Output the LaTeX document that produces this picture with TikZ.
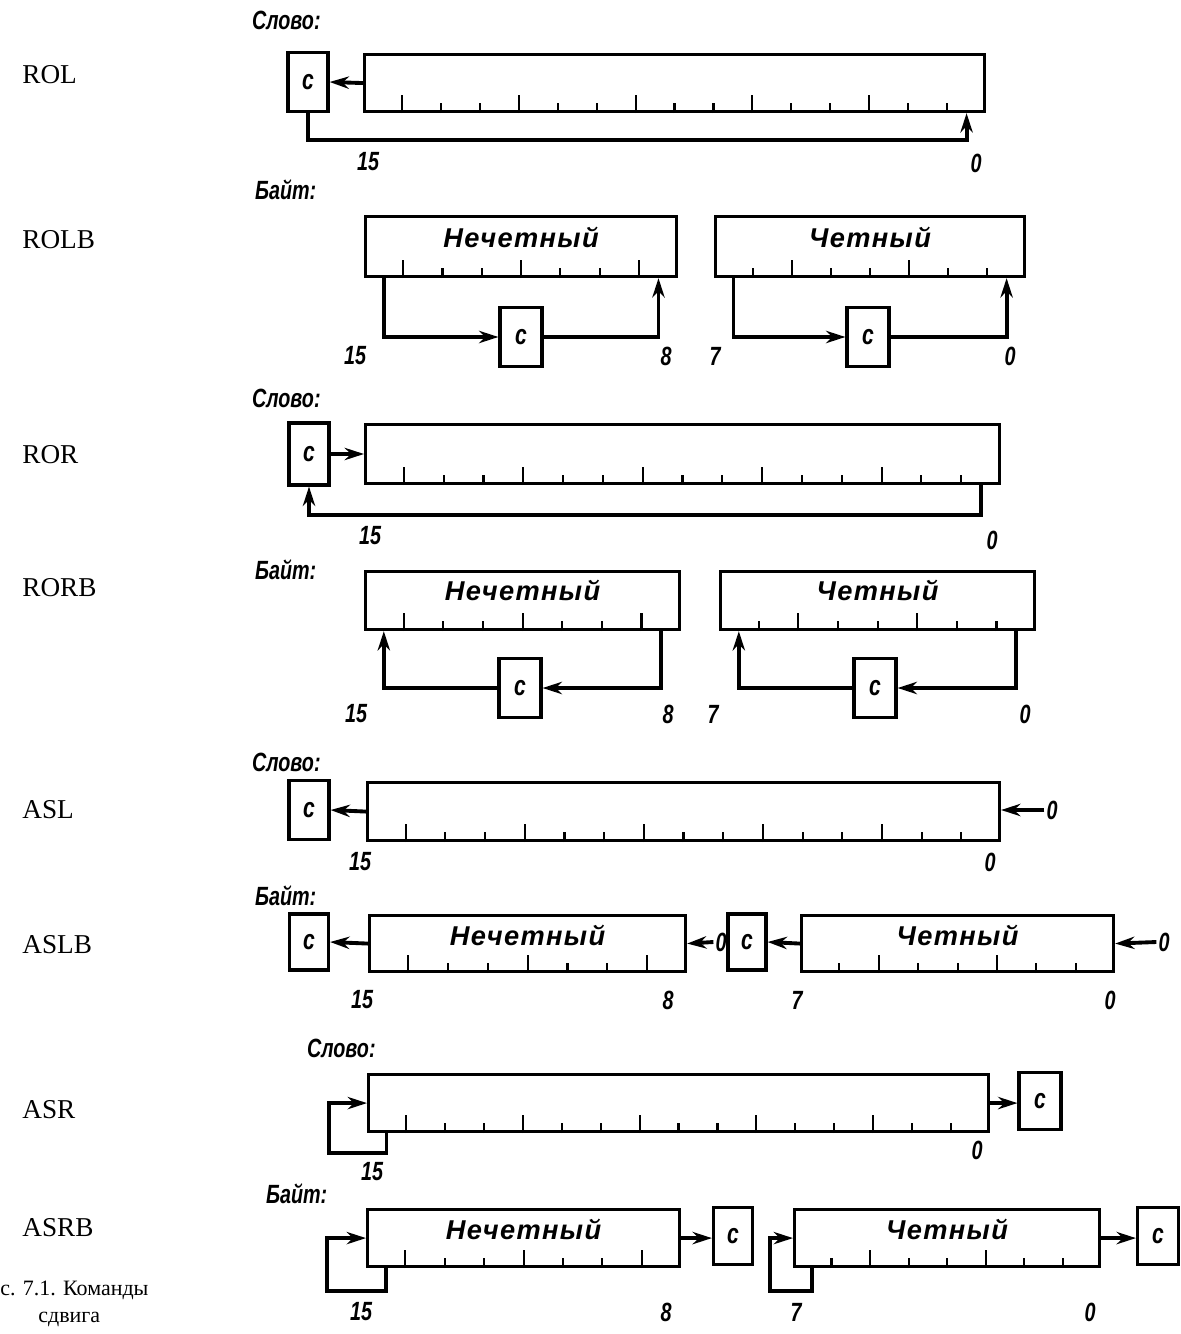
\documentclass[tikz,border=0pt]{standalone}
\usepackage{fontspec}
\setmainfont{Liberation Serif}
\newfontfamily\gostfont{Liberation Sans}[FakeStretch=0.75]
\newfontfamily\gostwide{Liberation Sans}[LetterSpace=5]
\usetikzlibrary{arrows.meta,calc}

% ticks under a register: node, high bit, number of bits
\newcommand{\regticks}[3]{%
  \pgfmathtruncatemacro\nlast{#3-1}
  \foreach \k in {1,...,\nlast} {
    \pgfmathtruncatemacro\b{#2-\k+1}
    \pgfmathsetmacro\h{mod(\b,3)==0 ? 18 : 10}
    \draw[tick] ($(#1.south west)!\k/#3!(#1.south east)$) -- ++(0,-\h);
  }%
}

\begin{document}
\begin{tikzpicture}[x=0.02cm, y=-0.02cm,
    reg/.style 2 args={draw, line width=1.8pt, anchor=north west, inner sep=0pt, minimum width=#1, minimum height=#2},
    cbox/.style={draw, line width=1.8pt, inner sep=0pt, minimum width=0.8cm, minimum height=1.18cm, font=\gostfont\bfseries\itshape\fontsize{16}{18}\selectfont},
    gost/.style={inner sep=1pt, font=\gostfont\bfseries\itshape\fontsize{15}{18}\selectfont},
    byte/.style={inner sep=1pt, font=\gostwide\bfseries\itshape\fontsize{15.5}{18}\selectfont},
    word/.style={gost, anchor=west},
    bitno/.style={gost},
    mnem/.style={anchor=west, inner sep=0pt, font=\fontsize{15.5}{18}\selectfont},
    flow/.style={line width=2.2pt, -{Stealth[length=11pt,width=7pt]}},
    tick/.style={line width=1.2pt}]
\useasboundingbox (0,0) rectangle (1180,1334);

% ROL
\node[mnem] (mrol) at (22,75) {ROL};
\node[word] (wrol) at (250,20) {Слово:};
\node[reg={12.4cm}{1.14cm}] (rol) at (363,53) {};
\node[cbox] (rolc) at (308,82) {c};
\regticks{rol}{15}{16}
\coordinate (rol0) at ($(rol.south west)!31/32!(rol.south east)$);
\draw[flow] (rol.west) -- (rolc.east);
\draw[flow] (rolc.south) |- ($(rol0)+(0,27)$) -- (rol0);
\node[bitno] (rol15n) at (368,162) {15};
\node[bitno] (rol0n) at (976,163) {0};

% ROLB
\node[mnem] (mrolb) at (22,240) {ROLB};
\node[word] (wrolb) at (253,190) {Байт:};
\node[reg={6.22cm}{1.2cm}] (rolbo) at (364,215) {};
\node[reg={6.18cm}{1.2cm}] (rolbe) at (714,215) {};
\node[byte] (trolbo) at ($(rolbo.north)+(0,22)$) {Нечетный};
\node[byte] (trolbe) at ($(rolbe.north)+(0,22)$) {Четный};
\regticks{rolbo}{15}{8}
\regticks{rolbe}{7}{8}
\node[cbox, minimum width=0.84cm] (rolbco) at (521,337) {c};
\node[cbox, minimum width=0.84cm] (rolbce) at (868,337) {c};
\coordinate (rolbo15) at ($(rolbo.south west)!1/16!(rolbo.south east)$);
\coordinate (rolbo8) at ($(rolbo.south west)!15/16!(rolbo.south east)$);
\coordinate (rolbe7) at ($(rolbe.south west)!1/16!(rolbe.south east)$);
\coordinate (rolbe0) at ($(rolbe.south west)!15/16!(rolbe.south east)$);
\draw[flow] (rolbo15) |- (rolbco.west);
\draw[flow] (rolbco.east) -| (rolbo8);
\draw[flow] (rolbe7) |- (rolbce.west);
\draw[flow] (rolbce.east) -| (rolbe0);
\node[bitno] (rolb15n) at (355,356) {15};
\node[bitno] (rolb8n) at (666,356) {8};
\node[bitno] (rolb7n) at (715,356) {7};
\node[bitno] (rolb0n) at (1010,356) {0};

% ROR
\node[mnem] (mror) at (22,455) {ROR};
\node[word] (wror) at (250,398) {Слово:};
\node[reg={12.68cm}{1.18cm}] (ror) at (364,423) {};
\node[cbox, minimum height=1.24cm] (rorc) at (309,454) {c};
\regticks{ror}{15}{16}
\coordinate (ror0) at ($(ror.south west)!31/32!(ror.south east)$);
\draw[flow] (rorc.east) -- (rorc.east -| ror.west);
\draw[flow] (ror0) |- ($(rorc.south)+(0,28)$) -- (rorc.south);
\node[bitno] (ror15n) at (370,536) {15};
\node[bitno] (ror0n) at (992,540) {0};

% RORB
\node[mnem] (mrorb) at (22,588) {RORB};
\node[word] (wrorb) at (253,570) {Байт:};
\node[reg={6.28cm}{1.16cm}] (rorbo) at (364,570) {};
\node[reg={6.28cm}{1.16cm}] (rorbe) at (719,570) {};
\node[byte] (trorbo) at ($(rorbo.north)+(0,20)$) {Нечетный};
\node[byte] (trorbe) at ($(rorbe.north)+(0,20)$) {Четный};
\regticks{rorbo}{15}{8}
\regticks{rorbe}{7}{8}
\node[cbox, minimum width=0.84cm] (rorbco) at (520,688) {c};
\node[cbox, minimum width=0.84cm] (rorbce) at (875,688) {c};
\coordinate (rorbo15) at ($(rorbo.south west)!1/16!(rorbo.south east)$);
\coordinate (rorbo8) at ($(rorbo.south west)!15/16!(rorbo.south east)$);
\coordinate (rorbe7) at ($(rorbe.south west)!1/16!(rorbe.south east)$);
\coordinate (rorbe0) at ($(rorbe.south west)!15/16!(rorbe.south east)$);
\draw[flow] (rorbo8) |- (rorbco.east);
\draw[flow] (rorbco.west) -| (rorbo15);
\draw[flow] (rorbe0) |- (rorbce.east);
\draw[flow] (rorbce.west) -| (rorbe7);
\node[bitno] (rorb15n) at (356,714) {15};
\node[bitno] (rorb8n) at (668,714) {8};
\node[bitno] (rorb7n) at (713,714) {7};
\node[bitno] (rorb0n) at (1025,714) {0};

% ASL
\node[mnem] (masl) at (22,810) {ASL};
\node[word] (wasl) at (250,762) {Слово:};
\node[reg={12.64cm}{1.16cm}] (asl) at (366,781) {};
\node[cbox] (aslc) at (309,810) {c};
\regticks{asl}{15}{16}
\node[gost] (asl0in) at (1052,810) {0};
\draw[flow] (asl.west) -- (aslc.east);
\draw[flow] (asl0in.west) -- (asl0in.west -| asl.east);
\node[bitno] (asl15n) at (360,862) {15};
\node[bitno] (asl0n) at (990,862) {0};

% ASLB
\node[mnem] (maslb) at (22,945) {ASLB};
\node[word] (waslb) at (253,896) {Байт:};
\node[cbox, minimum width=0.78cm, minimum height=1.12cm] (aslbco) at (309,942) {c};
\node[reg={6.32cm}{1.12cm}] (aslbo) at (368,914) {};
\node[gost] (aslb0o) at (721,942) {0};
\node[cbox, minimum width=0.76cm, minimum height=1.12cm] (aslbce) at (747,942) {c};
\node[reg={6.24cm}{1.12cm}] (aslbe) at (800,914) {};
\node[gost] (aslb0e) at (1164,942) {0};
\node[byte] (taslbo) at ($(aslbo.north)+(0,21)$) {Нечетный};
\node[byte] (taslbe) at ($(aslbe.north)+(0,21)$) {Четный};
\regticks{aslbo}{15}{8}
\regticks{aslbe}{7}{8}
\draw[flow] (aslbo.west) -- (aslbco.east);
\draw[flow] (aslb0o.west) -- (aslbo.east);
\draw[flow] (aslbe.west) -- (aslbce.east);
\draw[flow] (aslb0e.west) -- (aslbe.east);
\node[bitno] (aslb15n) at (362,1000) {15};
\node[bitno] (aslb8n) at (668,1000) {8};
\node[bitno] (aslb7n) at (797,1000) {7};
\node[bitno] (aslb0n) at (1110,1000) {0};

% ASR
\node[mnem] (masr) at (22,1110) {ASR};
\node[word] (wasr) at (305,1048) {Слово:};
\node[reg={12.4cm}{1.14cm}] (asr) at (367,1073) {};
\node[cbox, minimum width=0.84cm, minimum height=1.14cm] (asrc) at (1040,1101) {c};
\regticks{asr}{15}{16}
\coordinate (asr15) at ($(asr.south west)!1/32!(asr.south east)$);
\draw[flow] (asr.east) -- (asr.east -| asrc.west);
\draw[flow] (asr15) -- ++(0,20) -| ($(asr.west)+(-38,0)$) -- (asr.west);
\node[bitno] (asr0n) at (977,1150) {0};
\node[bitno] (asr15n) at (372,1172) {15};

% ASRB
\node[mnem] (masrb) at (22,1228) {ASRB};
\node[word] (wasrb) at (264,1194) {Байт:};
\node[reg={6.24cm}{1.14cm}] (asrbo) at (366,1208) {};
\node[cbox, minimum width=0.78cm, minimum height=1.14cm] (asrbco) at (733,1236) {c};
\node[reg={6.1cm}{1.14cm}] (asrbe) at (793,1208) {};
\node[cbox, minimum width=0.82cm, minimum height=1.14cm] (asrbce) at (1158,1236) {c};
\node[byte] (tasrbo) at ($(asrbo.north)+(0,21)$) {Нечетный};
\node[byte] (tasrbe) at ($(asrbe.north)+(0,21)$) {Четный};
\regticks{asrbo}{15}{8}
\regticks{asrbe}{7}{8}
\coordinate (asrbo15) at ($(asrbo.south west)!1/16!(asrbo.south east)$);
\coordinate (asrbe7) at ($(asrbe.south west)!1/16!(asrbe.south east)$);
\draw[flow] (asrbo.east) -- (asrbo.east -| asrbco.west);
\draw[flow] (asrbe.east) -- (asrbe.east -| asrbce.west);
\draw[flow] (asrbo15) -- ++(0,23) -| ($(asrbo.west)+(-39,0)$) -- (asrbo.west);
\draw[flow] (asrbe7) -- ++(0,23) -| ($(asrbe.west)+(-23,0)$) -- (asrbe.west);
\node[bitno] (asrb15n) at (361,1312) {15};
\node[bitno] (asrb8n) at (666,1312) {8};
\node[bitno] (asrb7n) at (796,1312) {7};
\node[bitno] (asrb0n) at (1090,1312) {0};

% caption
\node[anchor=west, inner sep=0pt, font=\fontsize{12.5}{15}\selectfont] (cap1) at (0,1290) {с. 7.1. Команды};
\node[anchor=west, inner sep=0pt, font=\fontsize{12.5}{15}\selectfont] (cap2) at (38,1319) {сдвига};
\end{tikzpicture}
\end{document}
